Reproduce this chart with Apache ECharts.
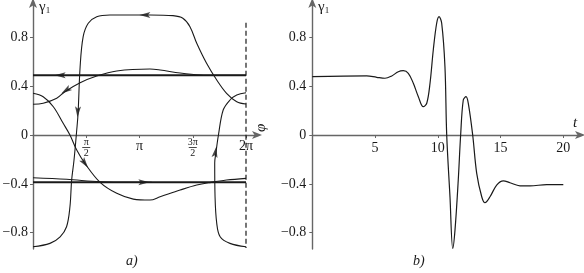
<!DOCTYPE html>
<html>
<head>
<meta charset="utf-8">
<script src="https://cdn.jsdelivr.net/npm/echarts@6/dist/echarts.min.js"></script>
<style>html,body{margin:0;padding:0;background:#fff}#c{width:584px;height:273px}</style>
</head>
<body>
<div id="c"></div>
<script>
// ---------- data: panel a) phase portrait (phi, gamma1) ----------
const lineUpper = [[0, 0.489], [6.283, 0.489]];
const lineLower = [[0, -0.388], [6.283, -0.388]];
const curveC = [[0,0.252],[0.30,0.260],[0.70,0.301],[0.94,0.355],[1.39,0.429],[1.88,0.484],[2.47,0.525],[3.45,0.541],[3.75,0.533],[4.34,0.508],[4.93,0.492],[5.5,0.489],[6.283,0.489]];
const curveD = [[0,0.342],[0.30,0.314],[0.60,0.232],[0.89,0.096],[1.09,0],[1.29,-0.123],[1.53,-0.232],[1.98,-0.388],[2.47,-0.478],[2.96,-0.525],[3.45,-0.533],[3.75,-0.506],[4.34,-0.451],[4.83,-0.410],[5.25,-0.388],[5.71,-0.369],[6.283,-0.355]];
const curveE = [[0,-0.35],[0.99,-0.363],[1.98,-0.383],[2.86,-0.388],[3.5,-0.388]];
const curveF = [[0,-0.916],[0.50,-0.888],[0.80,-0.834],[0.99,-0.752],[1.09,-0.588],[1.14,-0.369],[1.21,-0.205],[1.29,0.041],[1.33,0.18],[1.39,0.56],[1.48,0.806],[1.63,0.916],[1.88,0.970],[2.27,0.984],[3.45,0.984],[4.13,0.978],[4.42,0.957],[4.63,0.888],[4.83,0.752],[5.12,0.588],[5.42,0.451],[5.71,0.342],[6.01,0.273],[6.283,0.254]];
const curveG = [[6.283,-0.916],[5.81,-0.888],[5.52,-0.834],[5.42,-0.724],[5.37,-0.506],[5.36,-0.230],[5.40,-0.137],[5.47,0],[5.61,0.205],[5.81,0.287],[6.01,0.328],[6.283,0.347]];
const dashedLine = [[6.283, 0.92], [6.283, -0.926]];
// arrow heads: phi, gamma, direction (deg)
const arrows = [[0.80,0.489,90],[3.27,-0.388,-90],[3.30,0.984,90],[0.97,0.365,124],[1.53,-0.232,-144],[1.32,0.19,177],[5.38,-0.14,-9]];
const phiTicks = [Math.PI/2, Math.PI, 3*Math.PI/2, 2*Math.PI];
const phiLabels = ['π/2', 'π', '3π/2', '2π'];
const gammaTicks = [-0.8, -0.4, 0, 0.4, 0.8];

// ---------- data: panel b) time series ----------
const tVals = [0,4.33,5.13,5.79,6.33,6.85,7.25,7.65,8.05,8.45,8.84,9.12,9.38,9.64,9.91,10.10,10.31,10.57,10.71,10.97,11.19,11.37,11.63,11.82,12.03,12.25,12.43,12.78,13.10,13.50,13.76,14.16,14.69,15.22,15.75,16.55,17.35,18.68,20];
const gVals = [0.478,0.484,0.473,0.465,0.484,0.519,0.527,0.506,0.424,0.314,0.232,0.260,0.424,0.697,0.916,0.970,0.916,0.560,0,-0.506,-0.929,-0.779,-0.369,0,0.287,0.314,0.260,0,-0.314,-0.506,-0.555,-0.506,-0.410,-0.375,-0.391,-0.416,-0.416,-0.407,-0.407];
const tTicks = [5, 10, 15, 20];

const SERIF = "'Liberation Serif', 'DejaVu Serif', serif";
const INK = '#1a1a1a';
const AX = '#666';
const Y_MIN = -0.934, Y_MAX = 1.09, GRID_H = 247;
const ZERO_OFFSET = -GRID_H * (0 - Y_MIN) / (Y_MAX - Y_MIN);

const axisLineStyle = {show: true, onZero: false, symbol: ['none', 'arrow'], symbolSize: [6, 10], symbolOffset: [0, 4], lineStyle: {color: AX, width: 1.4}};
const gFmt = v => (v < 0 ? '\u2212' : '') + Math.abs(v);
const phiFmt = v => {
  let i = phiTicks.findIndex(t => Math.abs(t - v) < 1e-6);
  if (i < 0) return '';
  const s = phiLabels[i];
  if (s.indexOf('/') >= 0) {
    const p = s.split('/');
    return '{n|' + p[0] + '}\n{bar|}\n{n|' + p[1] + '}';
  }
  return '{w|' + s + '}';
};

const chart = echarts.init(document.getElementById('c'), null, {renderer: 'canvas'});

const curve = (data, w) => ({
  type: 'line', xAxisIndex: 0, yAxisIndex: 0, data: data, smooth: 0.35,
  showSymbol: false, symbol: 'none', silent: true,
  lineStyle: {color: INK, width: w || 1.1}, z: 3
});

chart.setOption({
  animation: false,
  backgroundColor: '#fff',
  grid: [
    {left: 33, top: 2, width: 225, height: GRID_H, outerBoundsMode: 'none'},
    {left: 312.3, top: 2, width: 268.7, height: GRID_H, outerBoundsMode: 'none'}
  ],
  xAxis: [
    {type: 'value', gridIndex: 0, min: 0, max: 6.637, position: 'bottom', offset: ZERO_OFFSET, splitLine: {show: false},
     axisLine: axisLineStyle,
     axisTick: {show: true, length: 3, customValues: phiTicks, lineStyle: {color: AX}},
     axisLabel: {customValues: phiTicks, formatter: phiFmt, margin: 3, color: INK,
       rich: {
         n: {fontFamily: SERIF, fontSize: 10, lineHeight: 8, color: INK, align: 'center'},
         bar: {width: 8, height: 0.8, lineHeight: 3, backgroundColor: INK, align: 'center'},
         w: {fontFamily: SERIF, fontSize: 14, lineHeight: 16, color: INK}
       }}},
    {type: 'value', gridIndex: 1, min: 0, max: 21.41, position: 'bottom', offset: ZERO_OFFSET, splitLine: {show: false},
     axisLine: axisLineStyle,
     axisTick: {show: true, length: 3, customValues: tTicks, lineStyle: {color: AX}},
     axisLabel: {customValues: tTicks, margin: 6, color: INK, fontFamily: SERIF, fontSize: 14}}
  ],
  yAxis: [
    {type: 'value', gridIndex: 0, min: Y_MIN, max: Y_MAX, splitLine: {show: false},
     axisLine: axisLineStyle,
     axisTick: {show: true, length: 3, customValues: gammaTicks, lineStyle: {color: AX}},
     axisLabel: {customValues: gammaTicks, formatter: gFmt, margin: 5, color: INK, fontFamily: SERIF, fontSize: 14}},
    {type: 'value', gridIndex: 1, min: Y_MIN, max: Y_MAX, splitLine: {show: false},
     axisLine: axisLineStyle,
     axisTick: {show: true, length: 3, customValues: gammaTicks, lineStyle: {color: AX}},
     axisLabel: {customValues: gammaTicks, formatter: gFmt, margin: 6, color: INK, fontFamily: SERIF, fontSize: 14}}
  ],
  series: [
    curve(lineUpper, 2),
    curve(lineLower, 2),
    curve(curveC),
    curve(curveD),
    curve(curveE),
    curve(curveF),
    curve(curveG),
    {type: 'line', xAxisIndex: 0, yAxisIndex: 0, data: dashedLine, showSymbol: false, symbol: 'none', silent: true,
     lineStyle: {color: INK, width: 1.2, type: [5, 3]}},
    {type: 'scatter', xAxisIndex: 0, yAxisIndex: 0, silent: true, z: 5,
     data: arrows,
     symbol: 'path://M5,0 L10,14 L5,11 L0,14 Z',
     symbolSize: [6, 11],
     symbolRotate: v => v[2],
     itemStyle: {color: INK}},
    {type: 'line', xAxisIndex: 1, yAxisIndex: 1, data: tVals.map((t, i) => [t, gVals[i]]),
     smooth: 0.35, showSymbol: false, symbol: 'none', silent: true,
     lineStyle: {color: INK, width: 1.2}}
  ],
  graphic: [
    {type: 'text', left: 39, top: 0, style: {text: '{g|γ}{s|1}', rich: {
      g: {fontFamily: SERIF, fontSize: 15, fill: INK},
      s: {fontFamily: SERIF, fontSize: 9, fill: INK, padding: [6, 0, 0, 0]}}}},
    {type: 'text', left: 318, top: 0, style: {text: '{g|γ}{s|1}', rich: {
      g: {fontFamily: SERIF, fontSize: 15, fill: INK},
      s: {fontFamily: SERIF, fontSize: 9, fill: INK, padding: [6, 0, 0, 0]}}}},
    {type: 'text', x: 254, y: 132, rotation: Math.PI / 2, style: {text: 'φ', fontFamily: SERIF, fontStyle: 'italic', fontSize: 15, fill: INK}},
    {type: 'text', left: 573, top: 116, style: {text: 't', fontFamily: SERIF, fontStyle: 'italic', fontSize: 15, fill: INK}},
    {type: 'text', left: 126, top: 254, style: {text: 'a)', fontFamily: SERIF, fontStyle: 'italic', fontSize: 14, fill: INK}},
    {type: 'text', left: 413, top: 254, style: {text: 'b)', fontFamily: SERIF, fontStyle: 'italic', fontSize: 14, fill: INK}}
  ]
});
</script>
</body>
</html>
